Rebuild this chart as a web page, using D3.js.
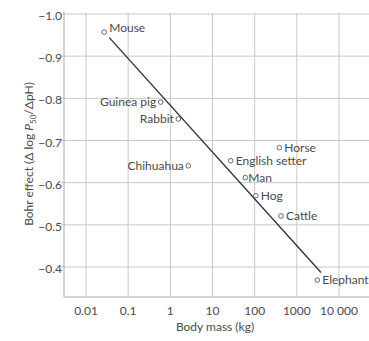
<!DOCTYPE html>
<html><head><meta charset="utf-8">
<script src="https://cdn.jsdelivr.net/npm/d3@7"></script>
<style>body{margin:0;background:#fff}svg{display:block}text{font-family:Lato,"Open Sans",sans-serif;fill:#4a4a4a}</style>
</head><body><svg id="c" width="369" height="341"></svg>
<script>
const animals = ["Mouse","Guinea pig","Rabbit","Chihuahua","English setter","Horse","Man","Hog","Cattle","Elephant"];
const mass = [0.027, 0.59, 1.55, 2.67, 27, 384, 60, 106, 421, 3055];
const bohr = [-0.957, -0.791, -0.751, -0.640, -0.652, -0.683, -0.612, -0.569, -0.521, -0.369];
const labelSide = ["right","left","left","left","right","right","right","right","right","right"];
const fitMass = [0.0357, 3741];
const fitBohr = [-0.944, -0.387];
const xTicks = [0.01, 0.1, 1, 10, 100, 1000, 10000];
const xTickLabels = ["0.01","0.1","1","10","100","1000","10 000"];
const yTicks = [-1.0, -0.9, -0.8, -0.7, -0.6, -0.5, -0.4];
const yTickLabels = ["\u22121.0","\u22120.9","\u22120.8","\u22120.7","\u22120.6","\u22120.5","\u22120.4"];

(function () {
const svg = d3.select("#c");
const pL = 64, pR = 369, pT = 13, pB = 297;
const x = d3.scaleLog().domain([0.01, 10000]).range([86, 339]);
const y = d3.scaleLinear().domain([-1.0, -0.4]).range([14, 267]);

// grid
svg.append("g").selectAll("line").data(yTicks).join("line")
  .attr("x1", pL - 3).attr("x2", pR).attr("y1", d => y(d)).attr("y2", d => y(d))
  .attr("stroke", "#c8c8c8").attr("stroke-width", 1);
svg.append("g").selectAll("line").data(xTicks).join("line")
  .attr("x1", d => x(d)).attr("x2", d => x(d)).attr("y1", pT).attr("y2", pB)
  .attr("stroke", "#c8c8c8").attr("stroke-width", 1);
// axis lines
svg.append("line").attr("x1", pL).attr("x2", pL).attr("y1", pT - 1).attr("y2", pB)
  .attr("stroke", "#aaa").attr("stroke-width", 1);
svg.append("line").attr("x1", pL).attr("x2", pR).attr("y1", pB).attr("y2", pB)
  .attr("stroke", "#aaa").attr("stroke-width", 1);

// tick labels
svg.append("g").selectAll("text").data(yTicks).join("text")
  .attr("x", pL - 2).attr("y", d => y(d) + 6).attr("text-anchor", "end")
  .attr("font-size", 12).text((d, i) => yTickLabels[i]);
svg.append("g").selectAll("text").data(xTicks).join("text")
  .attr("x", d => x(d)).attr("y", 315).attr("text-anchor", "middle")
  .attr("font-size", 12).text((d, i) => xTickLabels[i]);

// axis titles
svg.append("text").attr("x", 215).attr("y", 331).attr("text-anchor", "middle")
  .attr("font-size", 12).text("Body mass (kg)");
const yt = svg.append("text").attr("transform", "translate(33,154) rotate(-90)")
  .attr("text-anchor", "middle").attr("font-size", 12);
yt.append("tspan").text("Bohr effect (\u0394 log ");
yt.append("tspan").attr("font-style", "italic").text("P");
yt.append("tspan").attr("font-size", 8).attr("dy", 3).text("50");
yt.append("tspan").attr("dy", -3).text("/\u0394pH)");

// fit line
svg.append("line")
  .attr("x1", x(fitMass[0])).attr("y1", y(fitBohr[0]))
  .attr("x2", x(fitMass[1])).attr("y2", y(fitBohr[1]))
  .attr("stroke", "#333").attr("stroke-width", 1.4);

// points
const pts = animals.map((a, i) => ({a, m: mass[i], b: bohr[i], s: labelSide[i]}));
svg.append("g").selectAll("circle").data(pts).join("circle")
  .attr("cx", d => x(d.m)).attr("cy", d => y(d.b)).attr("r", 2.3)
  .attr("fill", "#fff").attr("stroke", "#555").attr("stroke-width", 0.9);
svg.append("g").selectAll("text").data(pts).join("text")
  .attr("x", d => x(d.m) + (d.s === "left" ? -4.5 : (d.a === "Man" ? 3 : 5)))
  .attr("y", d => y(d.b) + (d.a === "Mouse" ? 0 : 4))
  .attr("text-anchor", d => d.s === "left" ? "end" : "start")
  .attr("font-size", 12).text(d => d.a);
})();
</script></body></html>
